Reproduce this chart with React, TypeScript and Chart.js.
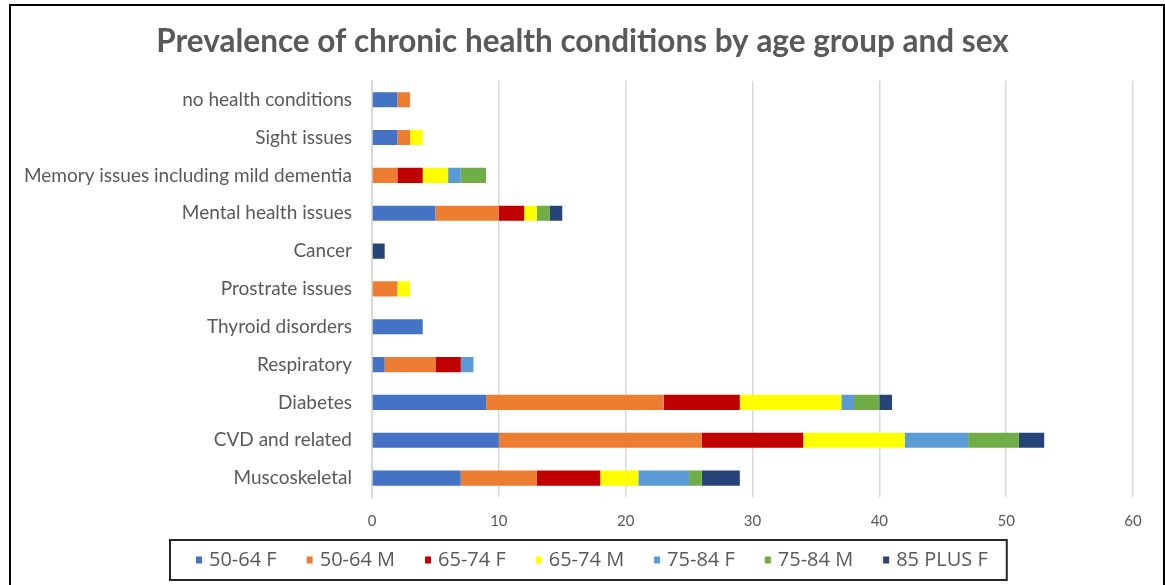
import React, { useEffect, useRef } from "react";
import { Chart, registerables } from "chart.js";

Chart.register(...registerables);

const categories = [
  "no health conditions",
  "Sight issues",
  "Memory issues including mild dementia",
  "Mental health issues",
  "Cancer",
  "Prostrate issues",
  "Thyroid disorders",
  "Respiratory",
  "Diabetes",
  "CVD and related",
  "Muscoskeletal",
];

const seriesNames = ["50-64 F", "50-64 M", "65-74 F", "65-74 M", "75-84 F", "75-84 M", "85 PLUS F"];
const f5064 = [2, 2, 0, 5, 0, 0, 4, 1, 9, 10, 7];
const m5064 = [1, 1, 2, 5, 0, 2, 0, 4, 14, 16, 6];
const f6574 = [0, 0, 2, 2, 0, 0, 0, 2, 6, 8, 5];
const m6574 = [0, 1, 2, 1, 0, 1, 0, 0, 8, 8, 3];
const f7584 = [0, 0, 1, 0, 0, 0, 0, 1, 1, 5, 4];
const m7584 = [0, 0, 2, 1, 0, 0, 0, 0, 2, 4, 1];
const f85plus = [0, 0, 0, 1, 1, 0, 0, 0, 1, 2, 3];

const seriesValues = [f5064, m5064, f6574, m6574, f7584, m7584, f85plus];
const seriesColors = ["#4472C4", "#ED7D31", "#C00000", "#FFFF00", "#5B9BD5", "#70AD47", "#264478"];

const xTicks = [0, 10, 20, 30, 40, 50, 60];

// Legend drawn from the chart's own datasets, inside a bordered box under the axis
const boxedLegendPlugin = {
  id: "boxedLegend",
  afterDraw(chart: any) {
    const ctx = chart.ctx;
    const datasets = chart.data.datasets;
    const cy = 560;
    const startX = 196;
    ctx.save();
    ctx.font = "20px 'Open Sans'";
    ctx.textBaseline = "middle";
    ctx.textAlign = "left";
    let x = startX;
    let lastEnd = x;
    datasets.forEach((ds: any) => {
      ctx.fillStyle = ds.backgroundColor;
      ctx.fillRect(x, cy - 3.5, 6, 7);
      const tx = x + 13;
      ctx.fillStyle = "#595959";
      ctx.fillText(ds.label, tx, cy);
      const w = ctx.measureText(ds.label).width;
      lastEnd = tx + w;
      x = tx + w + 30;
    });
    ctx.strokeStyle = "#262626";
    ctx.lineWidth = 2;
    ctx.strokeRect(startX - 26, cy - 20, lastEnd - startX + 45, 40);
    ctx.restore();
  },
};

export default function App() {
  const ref = useRef<HTMLCanvasElement | null>(null);

  useEffect(() => {
    if (!ref.current) return;
    const chart = new Chart(ref.current, {
      type: "bar",
      data: {
        labels: categories,
        datasets: seriesNames.map((name, i) => ({
          label: name,
          data: seriesValues[i],
          backgroundColor: seriesColors[i],
          borderWidth: 0,
          categoryPercentage: 1,
          barPercentage: 0.4,
        })),
      },
      options: {
        indexAxis: "y",
        animation: false,
        responsive: false,
        maintainAspectRatio: false,
        layout: { padding: { left: 0, right: 0, top: 0, bottom: 45 } },
        plugins: {
          title: {
            display: true,
            text: "Prevalence of chronic health conditions by age group and sex",
            color: "#595959",
            font: { family: "Lato", size: 31.5, weight: "bold" },
            padding: { top: 23, bottom: 20 },
          },
          legend: { display: false },
          tooltip: { enabled: false },
        },
        scales: {
          x: {
            stacked: true,
            min: 0,
            max: 60,
            afterBuildTicks(scale: any) {
              scale.ticks = xTicks.map((v) => ({ value: v }));
            },
            afterFit(scale: any) {
              scale.height = 43;
            },
            ticks: {
              color: "#595959",
              font: { family: "Lato", size: 15 },
              padding: 15,
            },
            grid: { color: "#d9d9d9", lineWidth: 1.5, drawTicks: false },
            border: { display: false },
          },
          y: {
            stacked: true,
            afterFit(scale: any) {
              scale.width = 372;
            },
            ticks: {
              color: "#595959",
              font: { family: "Lato", size: 19 },
              padding: 20,
              autoSkip: false,
            },
            grid: { display: false, drawTicks: false },
            border: { display: true, color: "#d9d9d9", width: 2 },
          },
          yRight: {
            type: "category",
            position: "right",
            afterFit(scale: any) {
              scale.width = 32;
            },
            ticks: { display: false },
            grid: { display: false, drawTicks: false },
            border: { display: false },
          },
        },
      },
      plugins: [boxedLegendPlugin],
    });
    return () => chart.destroy();
  }, []);

  return (
    <div style={{ position: "absolute", left: 0, top: 0, width: 1165, height: 585, background: "#fff", overflow: "hidden" }}>
      <canvas ref={ref} width={1165} height={585} style={{ display: "block" }} />
      <div
        style={{
          position: "absolute",
          left: 9,
          top: 4,
          width: 1152,
          height: 600,
          borderLeft: "2px solid #000",
          borderTop: "2px solid #000",
          borderRight: "2px solid #000",
          pointerEvents: "none",
        }}
      />
    </div>
  );
}
